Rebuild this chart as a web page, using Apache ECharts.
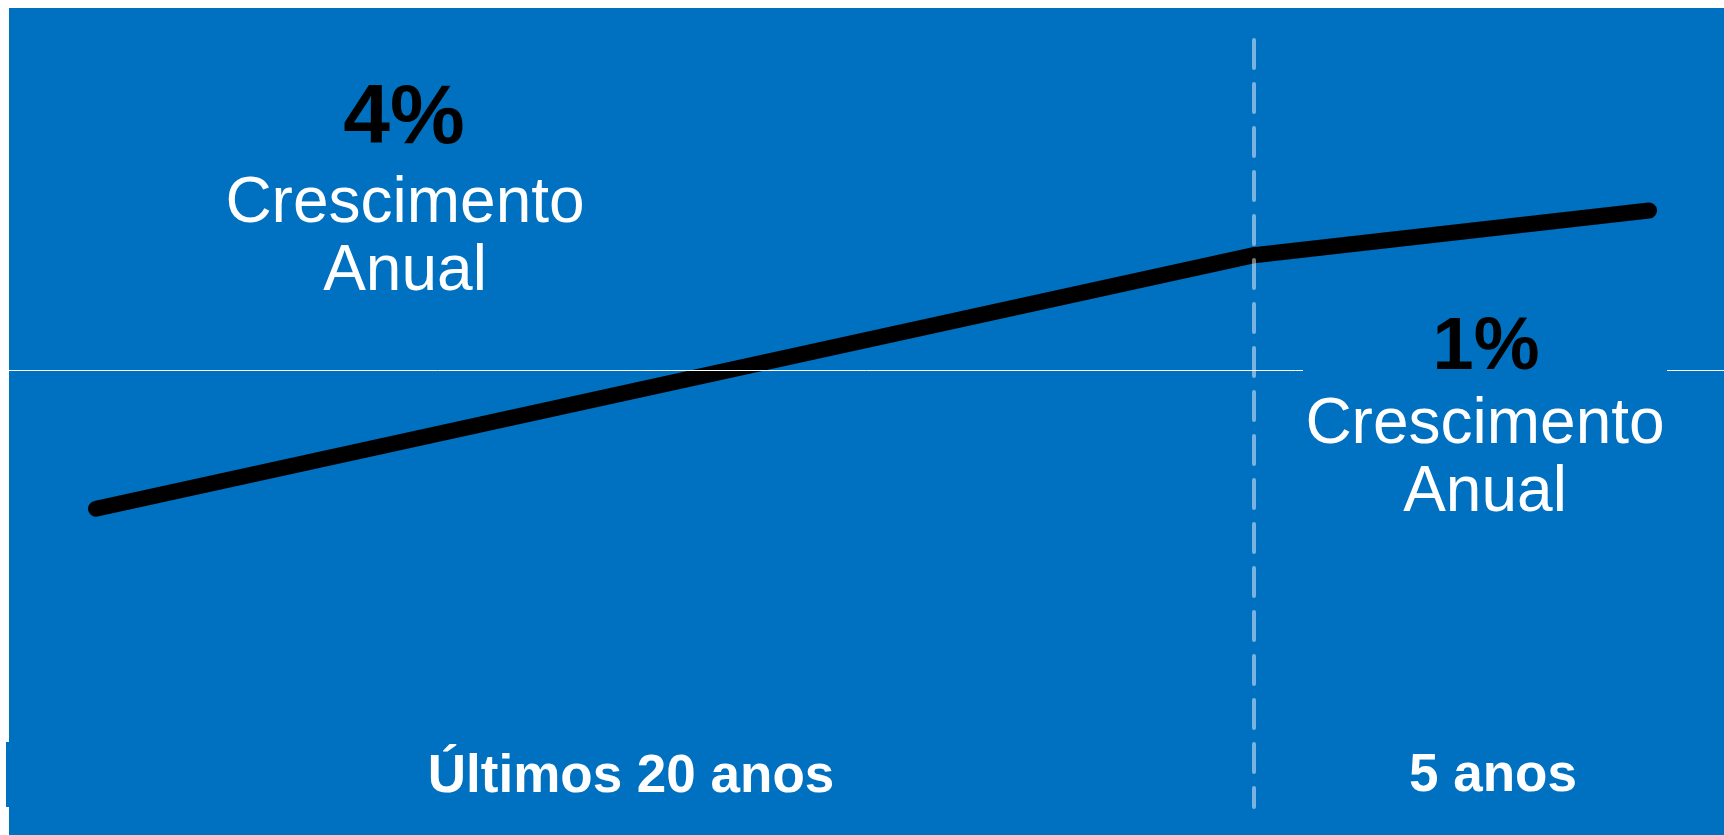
<!DOCTYPE html>
<html>
<head>
<meta charset="utf-8">
<script src="https://cdn.jsdelivr.net/npm/echarts@6/dist/echarts.min.js"></script>
<style>
  html, body { margin: 0; padding: 0; background: #ffffff; }
  #chart { width: 1724px; height: 835px; }
</style>
</head>
<body>
<div id="chart"></div>
<script>
// ---- data ----
const periods = ['Últimos 20 anos', '5 anos'];
const growthRates = ['4%', '1%'];
const growthLabel = ['Crescimento', 'Anual'];
// index path: 20-year period, then 5-year period (years vs index)
const longYears = [0, 20];
const longIndex = [100, 219];
const shortYears = [20, 25];
const shortIndex = [219, 240];
const referenceLevel = 165;
const dividerYear = 20;

// ---- styles ----
const BLUE = '#0070C0';
const FONT = '"Liberation Sans", Arial, sans-serif';
const Y_MIN = -40, Y_MAX = 320;
const TOP = 40, HEIGHT = 767;

const chart = echarts.init(document.getElementById('chart'), null, { renderer: 'canvas' });

function txt(text, x, y, size, weight, color, z) {
  return {
    type: 'text', x: x, y: y, z: z || 100, silent: true,
    style: {
      text: text, fill: color,
      fontSize: size, fontWeight: weight, fontFamily: FONT,
      font: weight + ' ' + size + 'px ' + FONT,
      align: 'center', verticalAlign: 'middle',
      textAlign: 'center', textVerticalAlign: 'middle'
    }
  };
}

const graphics = [
  { type: 'rect', z: -10, silent: true, shape: { x: 9, y: 8, width: 1715, height: 827 }, style: { fill: BLUE } },
  { type: 'rect', z: -10, silent: true, shape: { x: 6, y: 742, width: 3, height: 65 }, style: { fill: BLUE } },
  // text box of the right label (hides the reference line behind it)
  { type: 'rect', z: 90, silent: true, shape: { x: 1303, y: 360, width: 364, height: 20 }, style: { fill: BLUE } },
  txt(growthRates[0], 404, 120, 84, 'bold', '#000000'),
  txt(growthLabel[0], 405, 204, 64, 'normal', '#ffffff'),
  txt(growthLabel[1], 405, 272, 64, 'normal', '#ffffff'),
  txt(growthRates[1], 1486, 349, 74, 'bold', '#000000'),
  txt(growthLabel[0], 1485, 425, 64, 'normal', '#ffffff'),
  txt(growthLabel[1], 1485, 493, 64, 'normal', '#ffffff'),
  txt(periods[0], 631, 777, 53, 'bold', '#ffffff'),
  txt(periods[1], 1493, 776, 53, 'bold', '#ffffff')
];

const hiddenAxis = { show: false, axisLine: { show: false }, splitLine: { show: false }, axisTick: { show: false }, axisLabel: { show: false } };

const option = {
  animation: false,
  backgroundColor: '#ffffff',
  grid: [
    { left: 96, top: TOP, width: 1158, height: HEIGHT },
    { left: 1254, top: TOP, width: 395, height: HEIGHT },
    { left: 9, top: TOP, right: 0, height: HEIGHT }
  ],
  xAxis: [
    Object.assign({ type: 'value', gridIndex: 0, min: longYears[0], max: longYears[1] }, hiddenAxis),
    Object.assign({ type: 'value', gridIndex: 1, min: shortYears[0], max: shortYears[1] }, hiddenAxis),
    Object.assign({ type: 'value', gridIndex: 2, min: 0, max: 1 }, hiddenAxis)
  ],
  yAxis: [
    Object.assign({ type: 'value', gridIndex: 0, min: Y_MIN, max: Y_MAX }, hiddenAxis),
    Object.assign({ type: 'value', gridIndex: 1, min: Y_MIN, max: Y_MAX }, hiddenAxis),
    Object.assign({ type: 'value', gridIndex: 2, min: Y_MIN, max: Y_MAX }, hiddenAxis)
  ],
  graphic: { elements: graphics },
  series: [
    {
      type: 'line', xAxisIndex: 2, yAxisIndex: 2, z: 1,
      data: [], silent: true,
      markLine: {
        silent: true, symbol: ['none', 'none'], label: { show: false },
        lineStyle: { color: '#ffffff', width: 1, type: 'solid' },
        emphasis: { disabled: true },
        data: [{ yAxis: referenceLevel }]
      }
    },
    {
      type: 'line', xAxisIndex: 1, yAxisIndex: 1, z: 3,
      data: shortYears.map((x, i) => [x, shortIndex[i]]),
      showSymbol: false, symbol: 'none', clip: false, silent: true,
      lineStyle: { color: '#000000', width: 16, cap: 'round', join: 'round' },
      markLine: {
        silent: true, symbol: ['none', 'none'], label: { show: false },
        lineStyle: { color: 'rgba(255,255,255,0.48)', width: 4, type: [28, 16], cap: 'round' },
        emphasis: { disabled: true },
        data: [[{ coord: [dividerYear, Y_MAX] }, { coord: [dividerYear, Y_MIN] }]]
      }
    },
    {
      type: 'line', xAxisIndex: 0, yAxisIndex: 0, z: 3,
      data: longYears.map((x, i) => [x, longIndex[i]]),
      showSymbol: false, symbol: 'none', clip: false, silent: true,
      lineStyle: { color: '#000000', width: 16, cap: 'round', join: 'round' }
    }
  ]
};
chart.setOption(option);
</script>
</body>
</html>
